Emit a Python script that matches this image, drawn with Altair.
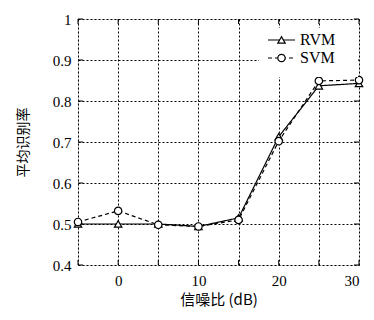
import altair as alt
import pandas as pd

snr = [-5, 0, 5, 10, 15, 20, 25, 30]
rvm = [0.500, 0.500, 0.500, 0.494, 0.515, 0.713, 0.837, 0.843]
svm = [0.505, 0.532, 0.498, 0.494, 0.510, 0.702, 0.849, 0.851]
series = ["RVM", "SVM"]
shapes = ["triangle-up", "circle"]
dashes = [[1, 0], [4, 3]]
xticks = [-5, 0, 5, 10, 15, 20, 25, 30]
yticks = [0.4, 0.5, 0.6, 0.7, 0.8, 0.9, 1.0]

rows = []
for name, vals in zip(series, [rvm, svm]):
    for x, v in zip(snr, vals):
        rows.append({"snr": x, "rate": v, "model": name})
df = pd.DataFrame(rows)
tick_df = pd.DataFrame({"t": xticks})
ytick_df = pd.DataFrame({"t": yticks})

W, H = 281, 246
font = "Liberation Serif"

xscale = alt.Scale(domain=[-5, 30], nice=False)
yscale = alt.Scale(domain=[0.4, 1.0], nice=False)

base = alt.Chart(df)

lines = base.mark_line(color="black", strokeWidth=1.2).encode(
    x=alt.X("snr:Q", scale=xscale,
            axis=alt.Axis(values=xticks, title="信噪比 (dB)",
                          labelExpr="datum.value % 10 == 0 ? datum.label : ''",
                          grid=True, gridDash=[2, 2], gridColor="black", gridOpacity=1,
                          gridWidth=1, ticks=False, labelPadding=8,
                          labelFontSize=15, labelFont=font, titleFont="Noto Sans CJK SC",
                          titleFontSize=15, titleFontWeight="normal", titlePadding=4,
                          domain=False, labelColor="black", titleColor="black")),
    y=alt.Y("rate:Q", scale=yscale,
            axis=alt.Axis(values=yticks, title="平均识别率",
                          labelExpr="datum.value == 1 ? '1' : format(datum.value, '.1f')",
                          grid=True, gridDash=[2, 2], gridColor="black", gridOpacity=1,
                          gridWidth=1, ticks=False, labelPadding=7,
                          labelFontSize=15, labelFont=font, titleFont="Noto Sans CJK SC",
                          titleFontSize=14, titleFontWeight="normal", titlePadding=22,
                          domain=False, labelColor="black", titleColor="black")),
    strokeDash=alt.StrokeDash("model:N", scale=alt.Scale(domain=series, range=dashes), legend=None),
    detail="model:N",
)

points = base.mark_point(color="black", fill="white", filled=False, strokeWidth=1.2, size=55, opacity=1).encode(
    x=alt.X("snr:Q", scale=xscale),
    y=alt.Y("rate:Q", scale=yscale),
    shape=alt.Shape("model:N", scale=alt.Scale(domain=series, range=shapes), legend=None),
)

bticks = alt.Chart(tick_df).mark_rule(color="black", strokeWidth=1).encode(
    x=alt.X("t:Q", scale=xscale), y=alt.value(H), y2=alt.value(H - 5))
tticks = alt.Chart(tick_df).mark_rule(color="black", strokeWidth=1).encode(
    x=alt.X("t:Q", scale=xscale), y=alt.value(0), y2=alt.value(5))
lticks = alt.Chart(ytick_df).mark_rule(color="black", strokeWidth=1).encode(
    y=alt.Y("t:Q", scale=yscale), x=alt.value(0), x2=alt.value(5))
rticks = alt.Chart(ytick_df).mark_rule(color="black", strokeWidth=1).encode(
    y=alt.Y("t:Q", scale=yscale), x=alt.value(W), x2=alt.value(W - 5))

# legend (drawn by hand, inside top-right)
leg_df = pd.DataFrame({"model": series})
leg_bg = alt.Chart(leg_df).mark_rect(fill="white").encode(
    x=alt.value(W - 100), x2=alt.value(W - 1), y=alt.value(9), y2=alt.value(58))
leg_layers = [leg_bg]
for i, (name, sh, da) in enumerate(zip(series, shapes, dashes)):
    yy = 21 + 18 * i
    one = alt.Chart(pd.DataFrame({"model": [name]}))
    leg_layers.append(one.mark_rule(color="black", strokeWidth=1.2, strokeDash=da).encode(
        x=alt.value(W - 91), x2=alt.value(W - 64), y=alt.value(yy)))
    leg_layers.append(one.mark_point(color="black", fill="white", filled=False, strokeWidth=1.2,
                                     size=55, opacity=1, shape=sh).encode(
        x=alt.value(W - 77.5), y=alt.value(yy)))
    leg_layers.append(one.mark_text(align="left", baseline="middle", font=font, fontSize=16,
                                    color="black").encode(
        x=alt.value(W - 59), y=alt.value(yy), text="model:N"))

chart = alt.layer(bticks, tticks, lticks, rticks, lines, points, *leg_layers).properties(
    width=W, height=H,
    autosize=alt.AutoSizeParams(type="none"),
    padding={"left": 70, "top": 11, "right": 7, "bottom": 45},
).configure_view(stroke="black", strokeWidth=1.5).configure(background="white")

chart.save("out.html", embed_options={"renderer": "svg", "actions": False})
